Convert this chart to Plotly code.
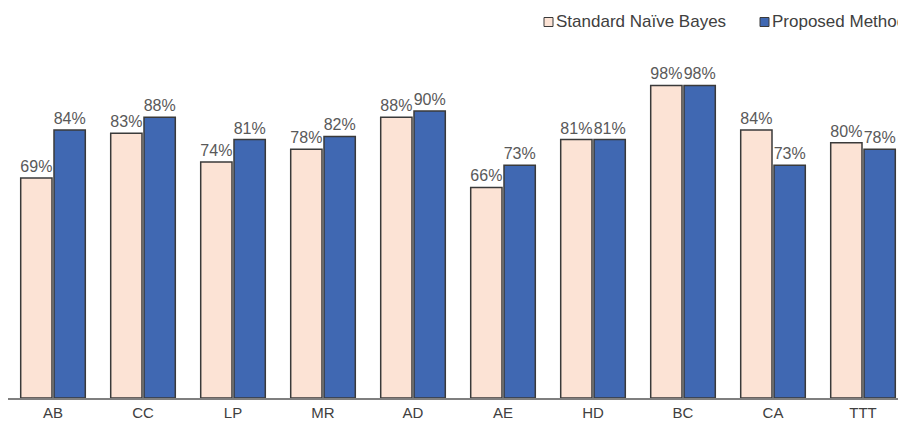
import plotly.graph_objects as go

categories = ["AB", "CC", "LP", "MR", "AD", "AE", "HD", "BC", "CA", "TTT"]
naive_bayes = [69, 83, 74, 78, 88, 66, 81, 98, 84, 80]
proposed = [84, 88, 81, 82, 90, 73, 81, 98, 73, 78]

series_names = ["Standard Naïve Bayes", "Proposed Method"]
series_colors = ["#FCE3D5", "#4068B2"]

FONT = "Liberation Sans, Arial, sans-serif"
border = dict(color="#3a3a3a", width=1.5)
label_font = dict(family=FONT, size=16, color="#595959")

fig = go.Figure()
for name, values, color in zip(series_names, [naive_bayes, proposed], series_colors):
    fig.add_trace(go.Bar(
        x=categories, y=values, name=name,
        marker=dict(color=color, line=border),
        text=[f"{v}%" for v in values], textposition="outside",
        textfont=label_font, cliponaxis=False, constraintext="none",
    ))

# Legend drawn as swatches + labels so it can run past the right edge
PLOT_L, PLOT_W = 8, 890
PLOT_T, PLOT_H = 50, 348


def px_x(p):
    return (p - PLOT_L) / PLOT_W


def px_y(p):
    return (PLOT_T + PLOT_H - p) / PLOT_H


legend_x = [544, 760]
for lx, name, color in zip(legend_x, series_names, series_colors):
    fig.add_shape(
        type="rect", xref="paper", yref="paper",
        x0=px_x(lx), x1=px_x(lx + 9), y0=px_y(26.5), y1=px_y(17.5),
        fillcolor=color, line=dict(color="#3a3a3a", width=1),
    )
    fig.add_annotation(
        xref="paper", yref="paper", x=px_x(lx + 10), y=px_y(21.5),
        xanchor="left", yanchor="middle", showarrow=False,
        text=name, font=dict(family=FONT, size=17, color="#404040"),
    )

fig.update_layout(
    width=898, height=429,
    margin=dict(l=PLOT_L, r=0, t=PLOT_T, b=31),
    paper_bgcolor="white", plot_bgcolor="white",
    barmode="group", bargap=0.26, bargroupgap=0.06,
    font=dict(family=FONT, color="#404040"),
    showlegend=False,
)
fig.update_xaxes(
    range=[-0.5, -0.5 + PLOT_W / 90],
    showline=True, linecolor="#7f7f7f", linewidth=2,
    ticks="", tickfont=dict(size=15, color="#404040"),
    showgrid=False,
)
fig.update_yaxes(range=[0, PLOT_H / 3.19], visible=False, showgrid=False)

fig.write_html("out.html")
